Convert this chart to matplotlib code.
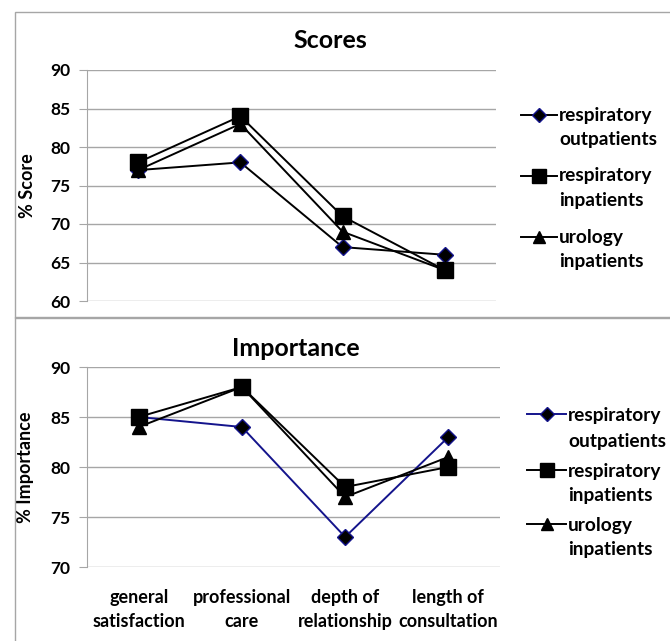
import matplotlib.pyplot as plt
from matplotlib.lines import Line2D
from matplotlib.patches import Rectangle

plt.rcParams["font.family"] = ["Lato", "DejaVu Sans"]
plt.rcParams["font.weight"] = "bold"

categories = ["general\nsatisfaction", "professional\ncare",
              "depth of\nrelationship", "length of\nconsultation"]
series_names = ["respiratory\noutpatients", "respiratory\ninpatients",
                "urology\ninpatients"]

score_resp_out = [77, 78, 67, 66]
score_resp_in = [78, 84, 71, 64]
score_urology = [77, 83, 69, 64]

imp_resp_out = [85, 84, 73, 83]
imp_resp_in = [85, 88, 78, 80]
imp_urology = [84, 88, 77, 81]

GRID = "#a6a6a6"
NAVY = "#14148c"
W, H = 670, 641

fig = plt.figure(figsize=(6.7, 6.41), dpi=100)

# chart-area borders
for y0, h in [(1 - 318 / H, 306 / H), (-0.02, 1 - 317 / H + 0.02)]:
    fig.patches.append(Rectangle((15 / W, y0), 1.0, h, transform=fig.transFigure,
                                 fill=False, edgecolor=GRID, linewidth=1.0))

MARKERS = [("D", 8.5), ("s", 11), ("^", 10)]


def style_axes(ax, ylim, ticks):
    ax.set_ylim(*ylim)
    ax.set_yticks(ticks)
    ax.set_xlim(-0.5, 3.5)
    ax.yaxis.grid(True, color=GRID, linewidth=1.0)
    ax.set_axisbelow(True)
    for s in ["top", "right", "bottom"]:
        ax.spines[s].set_visible(False)
    ax.spines["left"].set_color(GRID)
    ax.tick_params(axis="y", length=6, color=GRID, labelsize=12.5, pad=6)
    ax.tick_params(axis="x", length=0)
    for lab in ax.get_yticklabels():
        lab.set_fontweight("bold")


def draw(ax, series, out_color):
    x = range(len(categories))
    for i, (vals, (m, ms)) in enumerate(zip(series, MARKERS)):
        ax.plot(x, vals, color=out_color if i == 0 else "black", lw=1.4,
                marker=m, ms=ms, mfc="black", mec=NAVY if i == 0 else "black")


def legend(x0, x1, xt, rows, out_color, fontsize):
    # rows: (marker y, first-line y, second-line y) in pixels from top
    for i, (name, (ym, y1, y2), (m, ms)) in enumerate(zip(series_names, rows, MARKERS)):
        fig.add_artist(Line2D([x0 / W, x1 / W], [1 - ym / H, 1 - ym / H],
                              transform=fig.transFigure, lw=1.4,
                              color=out_color if i == 0 else "black"))
        fig.add_artist(Line2D([(x0 + x1) / 2 / W], [1 - ym / H], transform=fig.transFigure,
                              marker=m, ms=ms - 1.5, mfc="black",
                              mec=NAVY if i == 0 else "black", lw=0))
        first, second = name.split("\n")
        fig.text(xt / W, 1 - y1 / H, first, ha="left", va="center",
                 fontsize=fontsize, fontweight="bold")
        fig.text(xt / W, 1 - y2 / H, second, ha="left", va="center",
                 fontsize=fontsize, fontweight="bold")


# ---- Scores ----
ax1 = fig.add_axes([87 / W, 1 - 301 / H, 409 / W, 231 / H])
style_axes(ax1, (60, 90), range(60, 91, 5))
draw(ax1, [score_resp_out, score_resp_in, score_urology], "black")
ax1.set_xticks([])
ax1.set_ylabel("% Score", fontsize=13, fontweight="bold")
ax1.yaxis.set_label_coords(-0.125, 0.5)
fig.text(330 / W, 1 - 41 / H, "Scores", ha="center", va="center",
         fontsize=18, fontweight="bold")
legend(521, 557, 559, [(115, 115, 139), (176, 176, 201), (237, 237, 262)],
       "black", 13.8)

# ---- Importance ----
ax2 = fig.add_axes([87 / W, 1 - 567 / H, 413 / W, 200 / H])
style_axes(ax2, (70, 90), range(70, 91, 5))
draw(ax2, [imp_resp_out, imp_resp_in, imp_urology], NAVY)
ax2.set_xticks(range(len(categories)))
ax2.set_xticklabels(categories, fontsize=13, fontweight="bold", linespacing=1.45)
ax2.tick_params(axis="x", pad=16)
ax2.set_ylabel("% Importance", fontsize=13, fontweight="bold")
ax2.yaxis.set_label_coords(-0.128, 0.5)
fig.text(296 / W, 1 - 348 / H, "Importance", ha="center", va="center",
         fontsize=18, fontweight="bold")
legend(527, 566, 568, [(414, 415, 442), (470, 471, 496), (524, 525, 549)],
       NAVY, 13.8)

fig.savefig("out.png", dpi=100)
